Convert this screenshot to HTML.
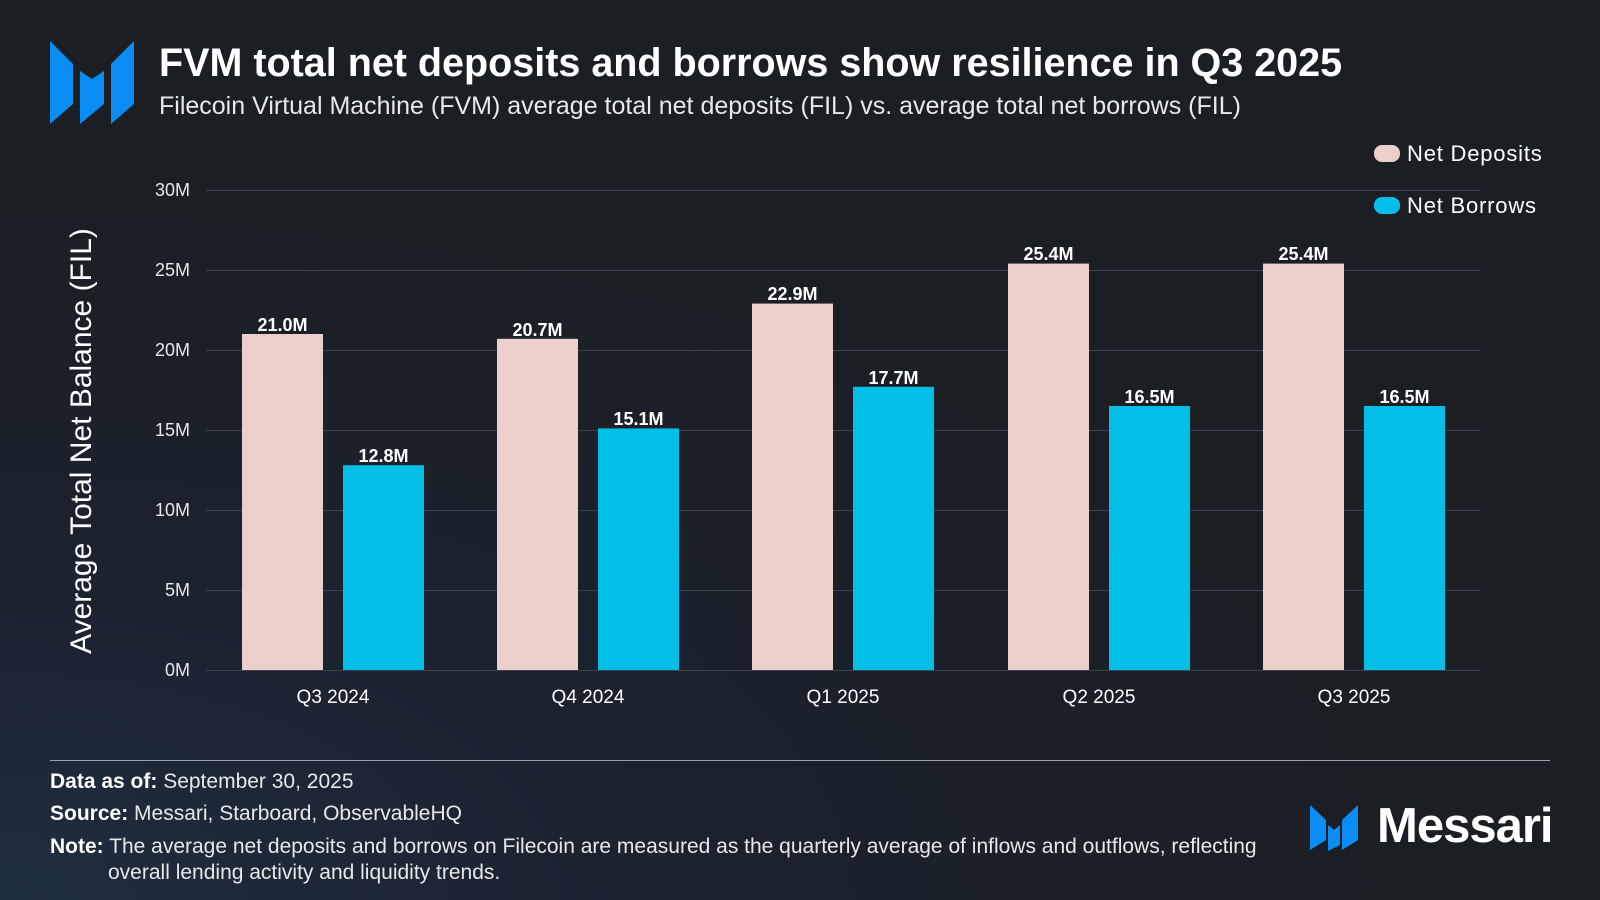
<!DOCTYPE html>
<html><head><meta charset="utf-8"><style>
body{margin:0;width:1600px;height:900px;overflow:hidden;font-family:"Liberation Sans",sans-serif;background:radial-gradient(ellipse 1400px 700px at 0% 100%,#1f2e3e 0%,#1b2230 45%,#1b1f24 100%);color:#fff;position:relative}
.a{position:absolute;white-space:nowrap}
</style></head><body>
<svg class="a" style="left:0;top:0" width="1600" height="900" font-family="Liberation Sans,sans-serif">
<g fill="#0a8cf5">
<polygon points="50,41 73,64 73,104 50,124"/>
<polygon points="80,71 92,79 104,71 104,104 80,124"/>
<polygon points="111,64 134,41 134,104 111,124"/>
<polygon points="1310,805 1326,820 1326,840 1310,850"/>
<polygon points="1328,825 1334,830 1340,825 1340,845 1328,851"/>
<polygon points="1342,820 1358,805 1358,840 1342,850"/>
</g>
<g stroke="#3a414a" stroke-width="1">
<line x1="206" y1="190.5" x2="1481" y2="190.5"/>
<line x1="206" y1="270.5" x2="1481" y2="270.5"/>
<line x1="206" y1="350.5" x2="1481" y2="350.5"/>
<line x1="206" y1="430.5" x2="1481" y2="430.5"/>
<line x1="206" y1="510.5" x2="1481" y2="510.5"/>
<line x1="206" y1="590.5" x2="1481" y2="590.5"/>
<line x1="206" y1="670.5" x2="1481" y2="670.5"/>
</g>
<g font-size="18" fill="#e8e8e8" text-anchor="end">
<text x="190" y="196">30M</text><text x="190" y="276">25M</text><text x="190" y="356">20M</text>
<text x="190" y="436">15M</text><text x="190" y="516">10M</text><text x="190" y="596">5M</text><text x="190" y="676">0M</text>
</g>
<g fill="#ebcfca">
<rect x="242" y="334" width="81" height="336"/>
<rect x="497" y="338.8" width="81" height="331.2"/>
<rect x="752" y="303.6" width="81" height="366.4"/>
<rect x="1008" y="263.6" width="81" height="406.4"/>
<rect x="1263" y="263.6" width="81" height="406.4"/>
</g>
<g fill="#03bfe8">
<rect x="343" y="465.2" width="81" height="204.8"/>
<rect x="598" y="428.4" width="81" height="241.6"/>
<rect x="853" y="386.8" width="81" height="283.2"/>
<rect x="1109" y="406" width="81" height="264"/>
<rect x="1364" y="406" width="81" height="264"/>
</g>
<g font-size="18" font-weight="bold" fill="#fff" text-anchor="middle">
<text x="282.5" y="331">21.0M</text><text x="383.5" y="462">12.8M</text>
<text x="537.5" y="336">20.7M</text><text x="638.5" y="425">15.1M</text>
<text x="792.5" y="300">22.9M</text><text x="893.5" y="384">17.7M</text>
<text x="1048.5" y="260">25.4M</text><text x="1149.5" y="403">16.5M</text>
<text x="1303.5" y="260">25.4M</text><text x="1404.5" y="403">16.5M</text>
</g>
<g font-size="19" fill="#fff" text-anchor="middle">
<text x="333" y="703">Q3 2024</text><text x="588" y="703">Q4 2024</text><text x="843" y="703">Q1 2025</text>
<text x="1099" y="703">Q2 2025</text><text x="1354" y="703">Q3 2025</text>
</g>
<line x1="50" y1="760.5" x2="1550" y2="760.5" stroke="#9aa0a8" stroke-width="1"/>
<text transform="translate(91,441) rotate(-90)" text-anchor="middle" font-size="30" fill="#fff">Average Total Net Balance (FIL)</text>
<rect x="1374" y="145" width="26" height="17" rx="8" fill="#ebcfca"/>
<rect x="1374" y="197" width="26" height="17" rx="8" fill="#03bfe8"/>
<g font-size="22" fill="#fff" letter-spacing="0.8">
<text x="1407" y="161">Net Deposits</text><text x="1407" y="213">Net Borrows</text>
</g>
</svg>
<div class="a" style="left:159px;top:41px;font-size:39.5px;font-weight:bold">FVM total net deposits and borrows show resilience in Q3 2025</div>
<div class="a" style="left:159px;top:92px;font-size:25px;color:#e8e8e8">Filecoin Virtual Machine (FVM) average total net deposits (FIL) vs. average total net borrows (FIL)</div>
<div class="a" style="left:50px;top:770px;font-size:21px;color:#e8e8e8"><b style="color:#fff">Data as of:</b> September 30, 2025</div>
<div class="a" style="left:50px;top:802px;font-size:21px;color:#e8e8e8"><b style="color:#fff">Source:</b> Messari, Starboard, ObservableHQ</div>
<div class="a" style="left:50px;top:834px;font-size:21px;color:#e8e8e8;line-height:26px"><b style="color:#fff">Note:</b> The average net deposits and borrows on Filecoin are measured as the quarterly average of inflows and outflows, reflecting<br><span style="padding-left:58px">overall lending activity and liquidity trends.</span></div>
<div class="a" style="left:1377px;top:798px;font-size:49px;font-weight:bold;letter-spacing:-1px">Messari</div>
</body></html>
